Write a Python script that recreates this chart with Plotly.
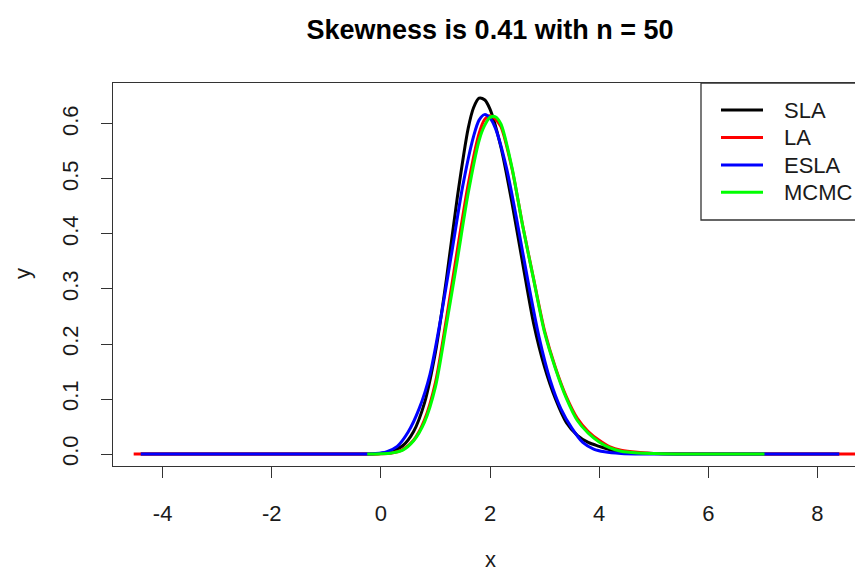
import plotly.graph_objects as go

# ---- series ----
series_names = ["SLA", "LA", "ESLA", "MCMC"]
series_colors = ["#000000", "#ff0000", "#0000ff", "#00ff00"]

sla_x = [-4.40, -1.0, -0.3, 0.0, 0.2, 0.4, 0.6, 0.8, 1.0, 1.2, 1.4, 1.6, 1.7, 1.8,
         1.9, 2.0, 2.2, 2.4, 2.6, 2.8, 3.0, 3.2, 3.4, 3.6, 3.8, 4.0, 4.3, 4.6, 5.0,
         5.5, 8.40]
sla_y = [0, 0, 0, 0.001, 0.005, 0.015, 0.041, 0.093, 0.185, 0.317, 0.466, 0.592,
         0.630, 0.647, 0.644, 0.627, 0.558, 0.458, 0.346, 0.237, 0.158, 0.100,
         0.057, 0.034, 0.021, 0.014, 0.005, 0.002, 0.001, 0, 0]

la_x = [-4.53, -1.0, -0.3, 0.0, 0.2, 0.4, 0.6, 0.8, 1.0, 1.2, 1.4, 1.6, 1.8, 1.9,
        2.0, 2.1, 2.2, 2.4, 2.6, 2.8, 3.0, 3.2, 3.4, 3.6, 3.8, 4.0, 4.2, 4.4, 4.7,
        5.0, 5.5, 9.2]
la_y = [0, 0, 0, 0.0005, 0.002, 0.008, 0.025, 0.062, 0.130, 0.245, 0.370, 0.490,
        0.583, 0.608, 0.615, 0.609, 0.595, 0.520, 0.415, 0.318, 0.224, 0.157,
        0.104, 0.065, 0.041, 0.025, 0.013, 0.007, 0.003, 0.001, 0.0003, 0]

esla_x = [-4.40, -1.0, -0.4, -0.1, 0.1, 0.3, 0.5, 0.7, 0.9, 1.1, 1.3, 1.5, 1.7,
          1.8, 1.9, 2.0, 2.1, 2.3, 2.5, 2.7, 2.9, 3.1, 3.3, 3.5, 3.7, 3.9, 4.1,
          4.4, 4.8, 8.40]
esla_y = [0, 0, 0, 0.001, 0.004, 0.014, 0.040, 0.082, 0.145, 0.248, 0.367, 0.487,
          0.578, 0.607, 0.617, 0.611, 0.592, 0.521, 0.421, 0.312, 0.212, 0.135,
          0.082, 0.047, 0.021, 0.009, 0.004, 0.001, 0, 0]

mcmc_x = [-0.25, 0.0, 0.2, 0.4, 0.6, 0.8, 1.0, 1.2, 1.4, 1.6, 1.8, 1.9, 2.0, 2.1,
          2.2, 2.4, 2.6, 2.8, 3.0, 3.2, 3.4, 3.6, 3.8, 4.0, 4.2, 4.4, 4.7, 5.0,
          5.5, 7.03]
mcmc_y = [0, 0.0005, 0.002, 0.007, 0.024, 0.058, 0.122, 0.234, 0.352, 0.474,
          0.570, 0.597, 0.612, 0.613, 0.600, 0.522, 0.414, 0.317, 0.221, 0.155,
          0.101, 0.061, 0.038, 0.022, 0.011, 0.005, 0.002, 0.001, 0, 0]

x_ticks = [-4, -2, 0, 2, 4, 6, 8]
x_tick_labels = ["-4", "-2", "0", "2", "4", "6", "8"]
y_ticks = [0.0, 0.1, 0.2, 0.3, 0.4, 0.5, 0.6]
y_tick_labels = ["0.0", "0.1", "0.2", "0.3", "0.4", "0.5", "0.6"]

chart_title = "Skewness is 0.41 with n = 50"

# ---- page geometry (pixels) ----
W, H = 855, 573
ML, MR, MT, MB = 113, 0, 83, 107
PW, PH = W - ML - MR, H - MT - MB
FONT = "Liberation Sans, Arial, Helvetica, sans-serif"
INK = "#1a1a1a"


def px_x(p):
    return (p - ML) / PW


def px_y(p):
    return (H - MB - p) / PH


fig = go.Figure()
curves = [(sla_x, sla_y), (la_x, la_y), (esla_x, esla_y), (mcmc_x, mcmc_y)]
for name, color, (xs, ys) in zip(series_names, series_colors, curves):
    fig.add_trace(go.Scatter(
        x=xs, y=ys, mode="lines", name=name,
        line=dict(color=color, width=3, shape="spline", smoothing=0.8),
        showlegend=False, hoverinfo="skip",
    ))

# legend drawn as a boxed key in the top-right corner
shapes = [dict(type="rect", xref="paper", yref="paper",
               x0=px_x(701), x1=px_x(905), y0=px_y(220), y1=px_y(83),
               line=dict(color="#333333", width=1.3), fillcolor="white", layer="above")]
annotations = []
rows = [110, 137.5, 165, 192.3]
for name, color, ry in zip(series_names, series_colors, rows):
    shapes.append(dict(type="line", xref="paper", yref="paper",
                       x0=px_x(721), x1=px_x(763), y0=px_y(ry), y1=px_y(ry),
                       line=dict(color=color, width=3), layer="above"))
    annotations.append(dict(text=name, xref="paper", yref="paper",
                            x=px_x(782), y=px_y(ry), xanchor="left", yanchor="middle",
                            showarrow=False, font=dict(size=22, color=INK, family=FONT)))

# axis titles
annotations.append(dict(text="x", xref="paper", yref="paper", x=px_x(490), y=px_y(559),
                        xanchor="center", yanchor="middle", showarrow=False,
                        font=dict(size=22, color=INK, family=FONT)))
annotations.append(dict(text="y", xref="paper", yref="paper", x=px_x(22), y=px_y(274),
                        xanchor="center", yanchor="middle", textangle=-90, showarrow=False,
                        font=dict(size=22, color=INK, family=FONT)))

fig.update_layout(
    width=W, height=H,
    margin=dict(l=ML, r=MR, t=MT, b=MB, pad=0),
    paper_bgcolor="white", plot_bgcolor="white",
    font=dict(family=FONT, size=22, color=INK),
    title=dict(text="<b>" + chart_title + "</b>", x=490 / W, xref="container",
               xanchor="center", y=1 - 30 / H, yref="container", yanchor="middle",
               font=dict(size=27, family=FONT, color="#000000")),
    shapes=shapes, annotations=annotations,
    xaxis=dict(range=[-4.909, 8.689], tickvals=x_ticks, ticktext=x_tick_labels,
               ticks="outside", ticklen=11,
               tickwidth=1.3, tickcolor="#333333", showline=True, mirror=True,
               linecolor="#333333", linewidth=1.3, showgrid=False, zeroline=False,
               ticklabelstandoff=16, tickfont=dict(size=22, color=INK)),
    yaxis=dict(range=[-0.0218, 0.6745], tickvals=y_ticks, ticktext=y_tick_labels,
               tickangle=-90, ticks="outside", ticklen=11, tickwidth=1.3,
               tickcolor="#333333", showline=True, mirror=False, linecolor="#333333",
               linewidth=1.3, showgrid=False, zeroline=False, ticklabelstandoff=14,
               tickfont=dict(size=22, color=INK)),
)

fig.write_html("out.html")
